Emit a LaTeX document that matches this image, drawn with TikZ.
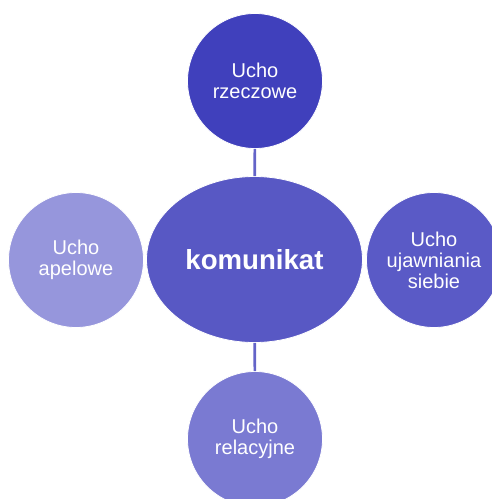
\documentclass[tikz,border=0pt]{standalone}
\usepackage{fontspec}
\setmainfont{Liberation Sans}
\usetikzlibrary{shapes.geometric}
\definecolor{ctop}{RGB}{64,64,188}
\definecolor{cmid}{RGB}{88,88,196}
\definecolor{cright}{RGB}{90,90,198}
\definecolor{cbot}{RGB}{122,122,210}
\definecolor{cleft}{RGB}{150,150,220}
\definecolor{cline}{RGB}{100,100,200}
\begin{document}
\begin{tikzpicture}[x=1pt,y=-1pt,
  ear/.style={circle,draw=white,line width=0.8pt,minimum size=135pt,inner sep=0pt,
    text=white,align=center,font=\fontsize{20}{21}\selectfont},
  core/.style={ellipse,draw=white,line width=0.8pt,minimum width=216pt,minimum height=166pt,
    inner sep=0pt,fill=cmid,text=white,font=\fontsize{27.6}{30}\selectfont\bfseries},
  link/.style={draw=cline,line width=2.6pt}]
\useasboundingbox (0,0) rectangle (491,499);
\node[core] (k) at (254.5,259.5) {komunikat};
\node[ear,fill=ctop] (t) at (255,81) {Ucho\\rzeczowe};
\node[ear,fill=cleft] (l) at (76,260) {Ucho\\apelowe};
\node[ear,fill=cright] (r) at (434,260) {Ucho\\ujawniania\\siebie};
\node[ear,fill=cbot] (b) at (255,439) {Ucho\\relacyjne};
\draw[link] (t) -- (k);
\draw[link] (k) -- (b);
\end{tikzpicture}
\end{document}
